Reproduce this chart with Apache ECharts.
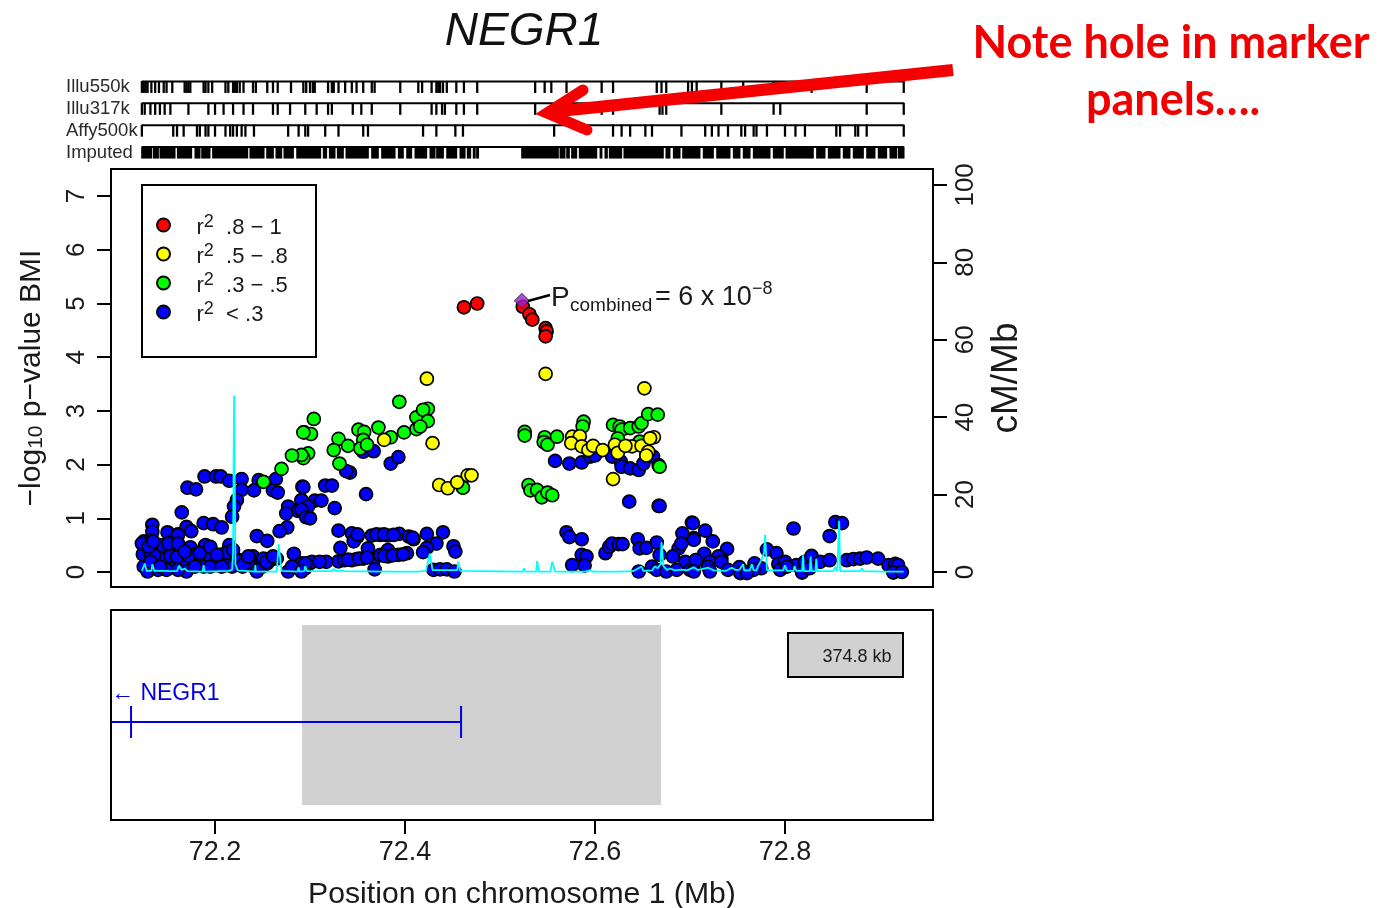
<!DOCTYPE html>
<html><head><meta charset="utf-8"><style>html,body{margin:0;padding:0;background:#fff}#c{width:1386px;height:908px}</style>
<script src="https://cdn.jsdelivr.net/npm/echarts@6/dist/echarts.min.js"></script></head>
<body><div id="c"></div><script>
// ---------- data (Mb, -log10 p) ----------
const geneTitle='NEGR1';
const trackNames=['Illu550k','Illu317k','Affy500k','Imputed'];
const xTicks=[72.2,72.4,72.6,72.8];
const pTicks=[0,1,2,3,4,5,6,7];
const rateTicks=[0,20,40,60,80,100];
const legendNames=['r2 .8 - 1','r2 .5 - .8','r2 .3 - .5','r2 < .3'];
const illu550=[72.123,72.125,72.127,72.129,72.133,72.137,72.141,72.146,72.149,72.155,72.168,72.170,72.172,72.174,72.188,72.190,72.193,72.197,72.211,72.214,72.219,72.221,72.223,72.226,72.230,72.240,72.243,72.255,72.261,72.266,72.280,72.293,72.296,72.300,72.303,72.305,72.319,72.323,72.325,72.330,72.337,72.344,72.349,72.356,72.365,72.368,72.395,72.414,72.418,72.428,72.433,72.435,72.437,72.440,72.444,72.454,72.462,72.476,72.537,72.547,72.554,72.570,72.607,72.619,72.665,72.670,72.675,72.698,72.702,72.707,72.733,72.756,72.788,72.791,72.828,72.886,72.925];
const illu317=[72.123,72.126,72.132,72.137,72.142,72.147,72.153,72.172,72.193,72.200,72.209,72.219,72.230,72.240,72.261,72.266,72.279,72.295,72.307,72.319,72.323,72.345,72.354,72.365,72.395,72.428,72.433,72.439,72.442,72.454,72.462,72.476,72.537,72.607,72.619,72.668,72.671,72.675,72.733,72.788,72.795,72.886,72.925];
const affy500=[72.123,72.156,72.160,72.167,72.181,72.184,72.190,72.193,72.200,72.211,72.216,72.219,72.223,72.228,72.232,72.241,72.277,72.288,72.295,72.298,72.316,72.330,72.356,72.361,72.419,72.433,72.453,72.461,72.557,72.619,72.628,72.637,72.653,72.660,72.691,72.716,72.723,72.730,72.740,72.754,72.758,72.767,72.770,72.781,72.800,72.811,72.821,72.854,72.858,72.874,72.877,72.886,72.925];
const imputedRunsA=[[72.1228,72.1333],[72.1351,72.1404],[72.1421,72.1579],[72.1604,72.1754],[72.1789,72.1842],[72.1860,72.1947],[72.1975,72.2344],[72.2368,72.2516],[72.2544,72.2614],[72.2642,72.2702],[72.2726,72.2825],[72.2860,72.3112],[72.3140,72.3175],[72.3204,72.3263],[72.3288,72.3351],[72.3379,72.3614],[72.3649,72.3719],[72.3754,72.3895],[72.3930,72.3982],[72.4018,72.4070],[72.4105,72.4228],[72.4263,72.4316],[72.4333,72.4404],[72.4439,72.4544],[72.4579,72.4632],[72.4656,72.4691],[72.4719,72.4737],[72.4754,72.4772]];
const imputedRunsB=[[72.5228,72.5614],[72.5632,72.5684],[72.5702,72.5730],[72.5754,72.5807],[72.5835,72.6018],[72.6053,72.6070],[72.6105,72.6130],[72.6151,72.6281],[72.6305,72.6719],[72.6747,72.6789],[72.6825,72.6895],[72.6923,72.7105],[72.7140,72.7246],[72.7281,72.7421],[72.7456,72.7526],[72.7561,72.7632],[72.7667,72.7842],[72.7877,72.7982],[72.8011,72.8298],[72.8333,72.8421],[72.8456,72.8579],[72.8614,72.8684],[72.8719,72.8825],[72.8860,72.8947],[72.8982,72.9070],[72.9105,72.9175],[72.9193,72.9253]];
const blueLeft=[[72.189,1.78],[72.201,1.78],[72.206,1.78],[72.215,1.70],[72.228,1.73],[72.246,1.71],[72.264,1.73],[72.171,1.57],[72.180,1.54],[72.228,1.53],[72.241,1.52],[72.261,1.52],[72.266,1.48],[72.292,1.59],[72.223,1.34],[72.220,1.22],[72.218,1.03],[72.165,1.11],[72.291,1.33],[72.277,1.22],[72.287,1.14],[72.275,1.09],[72.297,1.03],[72.188,.91],[72.198,.89],[72.207,.83],[72.170,.84],[72.175,.76],[72.150,.74],[72.161,.70],[72.134,.88],[72.134,.75],[72.276,.83],[72.268,.76],[72.244,.67],[72.255,.58],[72.125,.57],[72.132,.58],[72.143,.49],[72.156,.47],[72.159,.60],[72.161,.69],[72.174,.46],[72.189,.48],[72.215,.50],[72.187,.38],[72.193,.35],[72.211,.35],[72.124,.33],[72.132,.36],[72.139,.24],[72.147,.25],[72.166,.33],[72.180,.34],[72.168,.22],[72.198,.35],[72.205,.32],[72.214,.29],[72.283,.34],[72.240,.29],[72.226,.22],[72.244,.19],[72.249,.19],[72.265,.25],[72.258,.22],[72.221,.25],[72.125,.10],[72.129,.01],[72.140,.04],[72.155,.13],[72.149,.04],[72.170,.01],[72.187,.13],[72.201,.13],[72.212,.13],[72.229,.10],[72.240,.10],[72.244,.01],[72.277,.01],[72.291,.16],[72.295,.07],[72.300,.16],[72.218,.10],[72.161,.04],[72.188,.10],[72.128,.52],[72.136,.31],[72.145,.50],[72.152,.55],[72.153,.30],[72.160,.28],[72.172,.30],[72.190,.50],[72.195,.30],[72.213,.36],[72.235,.18],[72.230,.14],[72.250,.10],[72.255,.16]];
const blueLeftDense=[[72.123,.53],[72.130,.47],[72.135,.57],[72.151,.53],[72.161,.53],[72.168,.38],[72.184,.35],[72.195,.47],[72.202,.32],[72.219,.41],[72.235,.29],[72.251,.25],[72.254,.19],[72.261,.29],[72.281,.10],[72.132,.19],[72.142,.10],[72.179,.10],[72.195,.10],[72.207,.10]];
const blueMid=[[72.293,1.58],[72.316,1.61],[72.323,1.61],[72.359,1.45],[72.291,1.34],[72.305,1.33],[72.312,1.33],[72.298,1.22],[72.326,1.19],[72.291,1.16],[72.296,1.02],[72.300,1.00],[72.342,1.85],[72.338,1.88],[72.356,2.24],[72.367,2.25],[72.385,2.02],[72.393,2.14],[72.330,.77],[72.344,.72],[72.350,.66],[72.346,.57],[72.365,.68],[72.374,.69],[72.382,.68],[72.394,.71],[72.404,.66],[72.409,.61],[72.423,.71],[72.440,.74],[72.433,.53],[72.423,.45],[72.419,.37],[72.451,.48],[72.453,.38],[72.332,.45],[72.361,.44],[72.382,.41],[72.382,.29],[72.393,.32],[72.402,.35],[72.368,.25],[72.356,.25],[72.349,.24],[72.344,.22],[72.330,.20],[72.317,.19],[72.302,.19],[72.295,.16],[72.368,.05],[72.291,.01],[72.430,.04],[72.437,.05],[72.444,.05],[72.452,.01],[72.374,.32]];
const blueMidDense=[[72.310,.19],[72.336,.22],[72.340,.23],[72.352,.25],[72.360,.27],[72.378,.30],[72.387,.31],[72.398,.33],[72.350,.70],[72.370,.70],[72.378,.70],[72.388,.69],[72.408,.64]];
const blueRight=[[72.558,2.07],[72.573,2.02],[72.586,2.04],[72.595,2.15],[72.600,2.17],[72.618,2.15],[72.627,2.06],[72.628,1.96],[72.637,1.93],[72.646,1.90],[72.651,2.02],[72.661,2.15],[72.667,1.99],[72.636,1.31],[72.667,1.23],[72.668,1.23],[72.570,.74],[72.573,.65],[72.586,.61],[72.586,.32],[72.591,.29],[72.589,.12],[72.576,.13],[72.611,.35],[72.615,.47],[72.618,.53],[72.625,.52],[72.629,.52],[72.645,.61],[72.647,.44],[72.654,.45],[72.665,.55],[72.668,.32],[72.702,.92],[72.692,.72],[72.704,.63],[72.688,.44],[72.695,.19],[72.682,.29],[72.707,.22],[72.646,.01],[72.660,.10],[72.665,.04],[72.675,.01],[72.686,.04],[72.700,.04],[72.691,.53],[72.704,.04]];
const blueFar=[[72.703,.91],[72.716,.77],[72.724,.57],[72.704,.60],[72.739,.43],[72.715,.34],[72.733,.25],[72.730,.29],[72.706,.22],[72.721,.19],[72.733,.19],[72.719,.10],[72.721,.01],[72.704,.01],[72.740,.04],[72.752,.09],[72.758,.01],[72.768,.16],[72.775,.07],[72.781,.42],[72.791,.35],[72.793,.15],[72.800,.19],[72.795,.04],[72.809,.81],[72.812,.13],[72.821,.19],[72.828,.30],[72.818,-.01],[72.826,.07],[72.837,.19],[72.847,.22],[72.847,.67],[72.853,.93],[72.860,.91],[72.865,.22],[72.872,.24],[72.879,.25],[72.886,.27],[72.898,.25],[72.909,.13],[72.916,.15],[72.919,.13],[72.914,-.01],[72.923,0],[72.802,.10],[72.767,.04],[72.753,-.02],[72.760,-.02]];
const greenPts=[[72.304,2.85],[72.294,2.60],[72.301,2.57],[72.298,2.21],[72.293,2.12],[72.291,2.18],[72.330,2.48],[72.325,2.27],[72.340,2.35],[72.331,2.02],[72.351,2.65],[72.357,2.61],[72.356,2.46],[72.353,2.30],[72.360,2.37],[72.372,2.69],[72.385,2.51],[72.399,2.60],[72.394,3.17],[72.412,2.88],[72.424,3.04],[72.419,3.02],[72.424,2.81],[72.412,2.66],[72.416,2.71],[72.461,1.57],[72.251,1.68],[72.270,1.92],[72.281,2.17],[72.293,2.60],[72.526,2.61],[72.526,2.54],[72.547,2.51],[72.546,2.42],[72.550,2.37],[72.560,2.52],[72.588,2.80],[72.587,2.71],[72.619,2.74],[72.626,2.71],[72.628,2.65],[72.637,2.68],[72.646,2.71],[72.649,2.77],[72.656,2.94],[72.666,2.93],[72.624,2.49],[72.647,2.43],[72.668,1.96],[72.530,1.62],[72.532,1.52],[72.539,1.53],[72.544,1.39],[72.550,1.48],[72.555,1.43]];
const yellowPts=[[72.423,3.60],[72.378,2.46],[72.429,2.40],[72.436,1.62],[72.445,1.56],[72.455,1.67],[72.466,1.80],[72.470,1.80],[72.548,3.69],[72.652,3.42],[72.576,2.52],[72.584,2.53],[72.575,2.40],[72.586,2.34],[72.593,2.27],[72.598,2.35],[72.608,2.27],[72.621,2.37],[72.624,2.22],[72.639,2.34],[72.649,2.35],[72.656,2.24],[72.654,2.17],[72.662,2.51],[72.658,2.49],[72.632,2.35],[72.619,1.73]];
const redPts=[[72.462,4.93],[72.476,5.00],[72.524,4.94],[72.531,4.80],[72.534,4.70],[72.548,4.54],[72.549,4.48],[72.548,4.39]];
const topSnp=[[72.523,5.05]];
const recomb=[[72.123,.3],[72.125,.3],[72.126,2.2],[72.128,.3],[72.133,.3],[72.134,2.0],[72.136,.3],[72.148,.3],[72.149,.6],[72.151,.2],[72.160,.2],[72.162,1.6],[72.165,.5],[72.168,.9],[72.171,.2],[72.187,.1],[72.188,1.8],[72.189,.1],[72.215,.3],[72.218,.6],[72.219,5],[72.220,45.5],[72.2215,2],[72.224,.4],[72.242,.1],[72.2425,1.8],[72.243,.1],[72.265,.1],[72.267,7.2],[72.270,.3],[72.287,.1],[72.288,1.2],[72.289,.1],[72.294,.2],[72.295,1.5],[72.297,.2],[72.323,.2],[72.325,.8],[72.328,.2],[72.332,.4],[72.336,.2],[72.381,.1],[72.382,.3],[72.383,.1],[72.414,.1],[72.415,.5],[72.416,.1],[72.422,.3],[72.426,4.8],[72.429,.5],[72.455,.5],[72.456,2.7],[72.458,.3],[72.524,.1],[72.525,.9],[72.527,.1],[72.538,.1],[72.539,2.8],[72.541,.1],[72.553,.1],[72.555,2.7],[72.558,.1],[72.590,.1],[72.595,.5],[72.598,.1],[72.622,.1],[72.623,.5],[72.625,.1],[72.640,.2],[72.649,1.4],[72.651,.3],[72.660,.4],[72.663,1.4],[72.666,1],[72.669,2],[72.670,7.7],[72.672,1.5],[72.676,.5],[72.679,.9],[72.684,.4],[72.691,.6],[72.697,.4],[72.704,1.2],[72.708,.5],[72.719,1.1],[72.725,.4],[72.738,.3],[72.744,1.1],[72.748,.5],[72.752,.6],[72.756,2],[72.757,.4],[72.763,.4],[72.765,2],[72.767,.4],[72.770,.5],[72.772,1.7],[72.775,3],[72.778,5],[72.779,9.6],[72.781,.4],[72.798,.4],[72.800,1.7],[72.802,.3],[72.809,.3],[72.810,1.5],[72.812,.3],[72.818,.3],[72.819,4.3],[72.820,.2],[72.826,.2],[72.827,4],[72.828,.2],[72.832,.2],[72.833,3.4],[72.834,.2],[72.851,.2],[72.853,1.3],[72.855,.2],[72.856,.2],[72.857,13.2],[72.858,.2],[72.879,.2],[72.881,.9],[72.883,.2],[72.905,.1],[72.925,.1]];
const trackRange=[72.123,72.925];
const regionSpan=[72.2916,72.6695];
const geneSpan=[72.1116,72.459];
const regionLabel='374.8 kb';

// ---------- chart ----------
const F='"Liberation Sans",Arial,sans-serif', TXT='#1a1a1a';
const GL=111,GW=822,XMIN=72.0905,XMAX=72.9558;
const tickHalf=0.0012;
const trackRows=[];
[illu550,illu317,affy500].forEach((a,i)=>a.forEach(p=>trackRows.push([p-tickHalf,p+tickHalf,i,0])));
imputedRunsA.concat(imputedRunsB).forEach(r=>trackRows.push([r[0],r[1],3,1]));
const trackLines=trackNames.map((n,i)=>[trackRange[0],trackRange[1],i]);
const pointSeries=(name,data,color,z)=>({name,type:'scatter',xAxisIndex:1,yAxisIndex:1,data,symbol:'circle',symbolSize:13,z,
  itemStyle:{color,borderColor:'#000',borderWidth:1.7,opacity:1},emphasis:{disabled:true}});
const legendRich={a:{fontFamily:F,fontSize:22,color:TXT,lineHeight:14,padding:[6,0,0,0]},
  b:{fontFamily:F,fontSize:22,color:TXT,lineHeight:14,padding:[6,0,0,21]},
  s:{fontFamily:F,fontSize:18,color:TXT,lineHeight:14,padding:[0,0,6,0]}};
const option={
  animation:false,backgroundColor:'#fff',
  title:{text:geneTitle,left:519,top:4,textAlign:'center',textStyle:{fontFamily:F,fontStyle:'italic',fontWeight:'normal',fontSize:46,color:'#111'}},
  legend:{data:legendNames,orient:'vertical',left:151,top:206,itemWidth:14,itemHeight:13,itemGap:1,icon:'circle',selectedMode:false,
    formatter:n=>{const p=n.split(' ');return '{b|r}{s|2}{a|  '+p.slice(1).join(' ').replace('-','−')+'}';},
    textStyle:{rich:legendRich,fontFamily:F,fontSize:22}},
  grid:[
    {left:GL,width:GW,top:76,height:87.5,show:false,outerBoundsMode:'none'},
    {left:GL,width:GW,top:169,height:418,show:true,borderColor:'#000',borderWidth:2,outerBoundsMode:'none'},
    {left:GL,width:GW,top:610,height:210,show:true,borderColor:'#000',borderWidth:2,outerBoundsMode:'none'}],
  xAxis:[
    {type:'value',gridIndex:0,min:XMIN,max:XMAX,show:false},
    {type:'value',gridIndex:1,min:XMIN,max:XMAX,show:false},
    {type:'value',gridIndex:2,min:XMIN,max:XMAX,splitLine:{show:false},axisLine:{show:false},
     axisTick:{customValues:xTicks,length:14,lineStyle:{color:'#000',width:2}},
     axisLabel:{customValues:xTicks,formatter:v=>v.toFixed(1),fontFamily:F,fontSize:27,color:TXT,margin:19},
     name:'Position on chromosome 1 (Mb)',nameLocation:'middle',nameGap:60,nameTextStyle:{fontFamily:F,fontSize:30.2,color:TXT}}],
  yAxis:[
    {type:'category',gridIndex:0,data:trackNames,inverse:true,axisLine:{show:false},axisTick:{show:false},
     axisLabel:{align:'left',margin:45,interval:0,fontFamily:F,fontSize:18.5,color:'#2a2a2a'}},
    {type:'value',gridIndex:1,min:-0.279,max:7.505,splitLine:{show:false},axisLine:{show:false},
     axisTick:{customValues:pTicks,length:14,lineStyle:{color:'#000',width:2}},
     axisLabel:{customValues:pTicks,rotate:90,fontFamily:F,fontSize:26,color:TXT,margin:21},
     name:'{a|−log}{s|10}{a| p−value BMI}',nameLocation:'middle',nameRotate:90,nameGap:64,
     nameTextStyle:{rich:{a:{fontFamily:F,fontSize:30,color:TXT},s:{fontFamily:F,fontSize:21,color:TXT,padding:[10,0,0,0]}}}},
    {type:'value',gridIndex:1,position:'right',min:-3.88,max:104.1,splitLine:{show:false},axisLine:{show:false},
     axisTick:{customValues:rateTicks,length:14,lineStyle:{color:'#000',width:2}},
     axisLabel:{customValues:rateTicks,rotate:90,fontFamily:F,fontSize:26,color:TXT,margin:20},
     name:'cM/Mb',nameLocation:'middle',nameRotate:90,nameGap:55,nameTextStyle:{fontFamily:F,fontSize:37,color:TXT}},
    {type:'value',gridIndex:2,min:0,max:1,show:false}],
  series:[
    {name:'tracks',type:'custom',xAxisIndex:0,yAxisIndex:0,data:trackRows,encode:{x:[0,1],y:2},silent:true,
     renderItem:(p,api)=>{const a=api.coord([api.value(0),api.value(2)]),b=api.coord([api.value(1),api.value(2)]);
       const pad=api.value(3)?1:0;
       return {type:'rect',shape:{x:a[0]-pad/2,y:a[1]-6,width:Math.max(1.9,b[0]-a[0])+pad,height:12},style:{fill:'#000'}};}},
    {name:'trackLines',type:'custom',xAxisIndex:0,yAxisIndex:0,data:trackLines,encode:{x:[0,1],y:2},silent:true,
     renderItem:(p,api)=>{const a=api.coord([api.value(0),api.value(2)]),b=api.coord([api.value(1),api.value(2)]);
       return {type:'rect',shape:{x:a[0],y:a[1]-6.5,width:b[0]-a[0],height:2},style:{fill:'#000'}};}},
    pointSeries(legendNames[3],blueLeft.concat(blueLeftDense,blueMid,blueMidDense,blueRight,blueFar),'#0000ff',2),
    pointSeries(legendNames[2],greenPts,'#00ff00',3),
    pointSeries(legendNames[1],yellowPts,'#ffff00',4),
    pointSeries(legendNames[0],redPts,'#ff0000',5),
    {name:'top SNP',type:'scatter',xAxisIndex:1,yAxisIndex:1,data:topSnp,symbol:'diamond',symbolSize:15,z:6,
     itemStyle:{color:'#9a22c8',borderColor:'#222',borderWidth:1}},
    {name:'recombination',type:'line',xAxisIndex:1,yAxisIndex:2,data:recomb,symbol:'none',z:7,silent:true,
     lineStyle:{color:'#00ffff',width:1.8}},
    {name:'region',type:'custom',xAxisIndex:2,yAxisIndex:3,data:[[regionSpan[0],regionSpan[1],0.071,0.929]],encode:{x:[0,1],y:[2,3]},silent:true,z:1,
     renderItem:(p,api)=>{const a=api.coord([api.value(0),api.value(3)]),b=api.coord([api.value(1),api.value(2)]);
       return {type:'rect',shape:{x:a[0],y:a[1],width:b[0]-a[0],height:b[1]-a[1]},style:{fill:'#d1d1d1'}};}},
    {name:'gene',type:'custom',xAxisIndex:2,yAxisIndex:3,data:[[geneSpan[0],geneSpan[1],0.467]],encode:{x:[0,1],y:2},silent:true,z:2,
     renderItem:(p,api)=>{const a=api.coord([api.value(0),api.value(2)]),b=api.coord([api.value(1),api.value(2)]);
       const C='#0000e6',L={stroke:C,lineWidth:2,fill:null};
       return {type:'group',children:[
         {type:'line',shape:{x1:GL,y1:a[1],x2:b[0],y2:a[1]},style:L},
         {type:'line',shape:{x1:a[0],y1:a[1]-16,x2:a[0],y2:a[1]+16},style:L},
         {type:'line',shape:{x1:b[0],y1:a[1]-16,x2:b[0],y2:a[1]+16},style:L},
         {type:'text',style:{text:'← '+geneTitle,x:111,y:a[1]-28,fill:C,font:'23px '+F,textAlign:'left',textVerticalAlign:'middle'}}]};}}
  ],
  graphic:[
    {type:'rect',shape:{x:142,y:185,width:174,height:172},style:{fill:null,stroke:'#000',lineWidth:2},z:1},
    {type:'line',shape:{x1:528,y1:301,x2:550,y2:295},style:{stroke:'#000',lineWidth:2.5},z:8},
    {type:'text',style:{text:'P',x:551,y:298,font:'28px '+F,fill:TXT,textVerticalAlign:'middle'},z:8},
    {type:'text',style:{text:'combined',x:570,y:306,font:'19px '+F,fill:TXT,textVerticalAlign:'middle'},z:8},
    {type:'text',style:{text:'= 6 x 10',x:655,y:298,font:'27px '+F,fill:TXT,textVerticalAlign:'middle'},z:8},
    {type:'text',style:{text:'−8',x:752,y:289,font:'18px '+F,fill:TXT,textVerticalAlign:'middle'},z:8},
    {type:'rect',shape:{x:788,y:633,width:115,height:44},style:{fill:'#d1d1d1',stroke:'#000',lineWidth:2},z:8},
    {type:'text',style:{text:regionLabel,x:857,y:657,font:'18px '+F,fill:TXT,textAlign:'center',textVerticalAlign:'middle'},z:9},
    {type:'polyline',shape:{points:[[953,70],[550,112]]},style:{stroke:'#f50000',lineWidth:12,fill:null},z:20},
    {type:'polyline',shape:{points:[[583,90],[547,113],[587,130]]},style:{stroke:'#f50000',lineWidth:11,lineCap:'round',lineJoin:'miter',fill:null},z:20},
    {type:'text',style:{text:'Note hole in marker',x:1171,y:43,font:'bold 45px Lato,sans-serif',fill:'#f00000',textAlign:'center',textVerticalAlign:'middle'},z:20},
    {type:'text',style:{text:'panels….',x:1173,y:100,font:'bold 45px Lato,sans-serif',fill:'#f00000',textAlign:'center',textVerticalAlign:'middle'},z:20}
  ]
};
echarts.init(document.getElementById('c'),null,{renderer:'canvas'}).setOption(option);
</script></body></html>
